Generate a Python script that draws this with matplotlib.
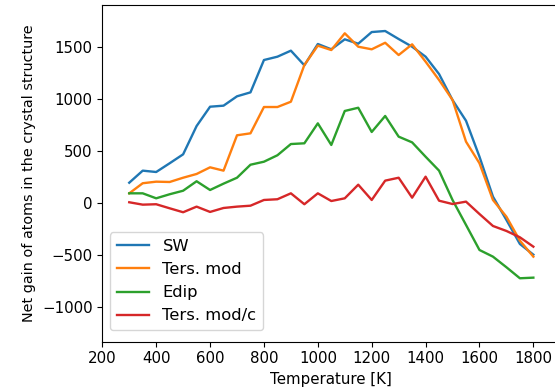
import matplotlib
matplotlib.use("Agg")
import matplotlib.pyplot as plt

temperature = [300, 350, 400, 450, 500, 550, 600, 650, 700, 750, 800, 850, 900, 950,
               1000, 1050, 1100, 1150, 1200, 1250, 1300, 1350, 1400, 1450, 1500, 1550,
               1600, 1650, 1700, 1750, 1800]

sw = [192, 308, 295, 379, 465, 737, 923, 933, 1023, 1061, 1372, 1404, 1462, 1321,
      1526, 1475, 1571, 1529, 1641, 1651, 1574, 1500, 1404, 1237, 987, 788,
      442, 58, -166, -397, -500]

ters_mod = [90, 187, 202, 199, 240, 276, 340, 308, 648, 667, 920, 920, 971, 1324,
            1510, 1468, 1629, 1500, 1475, 1538, 1420, 1523, 1356, 1180, 988, 587,
            379, 26, -135, -365, -519]

edip = [90, 90, 42, 81, 115, 206, 122, 183, 240, 365, 394, 456, 564, 571,
        763, 555, 882, 913, 680, 834, 635, 580, 442, 308, 26, -214,
        -455, -519, -621, -727, -721]

ters_mod_c = [4, -19, -15, -54, -92, -38, -89, -51, -38, -29, 26, 33, 90, -15,
              90, 16, 42, 173, 26, 212, 240, 48, 250, 19, -13, 10,
              -109, -224, -272, -333, -423]

series = [("SW", sw), ("Ters. mod", ters_mod), ("Edip", edip), ("Ters. mod/c", ters_mod_c)]

plt.rcParams["font.size"] = 10.8

fig = plt.figure(figsize=(5.55, 3.9), dpi=100)
ax = fig.add_axes([102.3 / 555, 48.3 / 390, 458 / 555, (385.3 - 48.3) / 390])

for name, values in series:
    ax.plot(temperature, values, lw=1.7, label=name)

ax.set_xlim(200, 1900)
ax.set_ylim(-1337, 1904)
ax.set_xticks(range(200, 1801, 200))
ax.set_yticks(range(-1000, 1501, 500))
ax.set_xlabel("Temperature [K]")
ax.set_ylabel("Net gain of atoms in the crystal structure", fontsize=10.4)
ax.legend(loc="lower left", bbox_to_anchor=(0.0168, 0.0347), borderaxespad=0,
          fontsize=11.8)

fig.savefig("out.png", dpi=100)
